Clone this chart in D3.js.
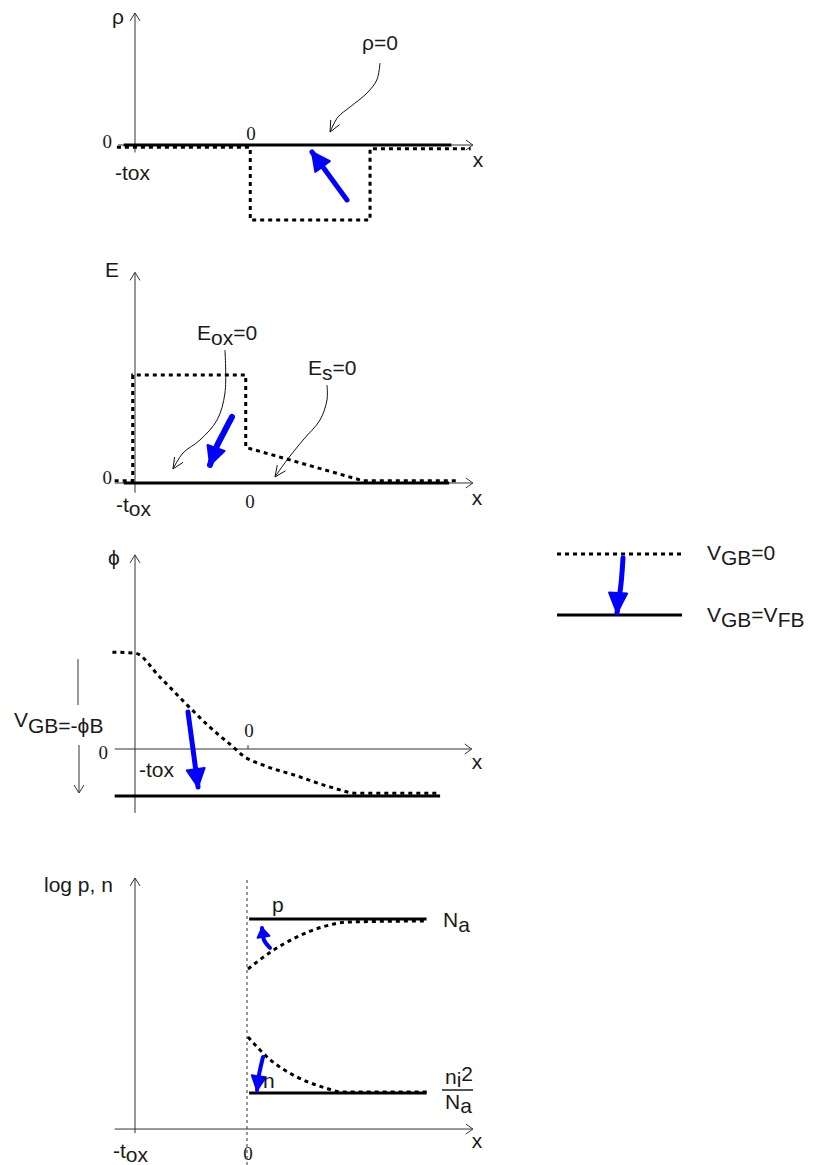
<!DOCTYPE html>
<html>
<head>
<meta charset="utf-8">
<script src="https://cdn.jsdelivr.net/npm/d3@7"></script>
<style>
  body { margin: 0; background: #fff; }
  svg { display: block; }
  text { font-family: "Liberation Sans", Arial, sans-serif; font-size: 21px; fill: #1a1a1a; }
  text.num { font-family: "Liberation Serif", "Times New Roman", serif; font-size: 19px; }
</style>
</head>
<body>
<svg id="chart" width="815" height="1165"></svg>
<script>
// x is in units of tox: -1 = oxide edge, 0 = Si surface
// charge density (rho)
const rhoSolid = [[-1.1, 0], [1.8, 0]];
const rhoDotted = [[-1.16, -0.03], [0.02, -0.03], [0.02, -1], [1.08, -1], [1.08, -0.05], [1.97, -0.05]];
// electric field (E)
const eSolid = [[-1.1, 0], [1.78, 0]];
const eDotted = [[-1.18, 0.02], [-1.02, 0.02], [-1.02, 1], [-0.02, 1], [-0.02, 0.33], [1.02, 0.02], [1.85, 0.02]];
// potential (phi), in units of phiB
const phiSolid = [[-1.18, -1], [1.70, -1]];
const phiDotted = [[-1.2, 2.06], [-1.0, 2.04], [-0.78, 1.53], [-0.54, 0.94], [-0.34, 0.47], [-0.13, 0.04],
  [-0.04, -0.15], [0.13, -0.34], [0.43, -0.57], [0.73, -0.81], [0.96, -0.94], [1.70, -0.94]];
// carrier concentrations (log)
const pSolid = [[0.01, 1e17], [1.58, 1e17]];
const pDotted = [[0, 9.5e12], [0.2, 2.2e14], [0.43, 3.5e15], [0.66, 2.3e16], [0.88, 5.7e16], [1.58, 7e16]];
const nSolid = [[0.01, 1e3], [1.58, 1e3]];
const nDotted = [[0, 3.2e7], [0.2, 4.5e5], [0.43, 2e4], [0.66, 3e3], [0.84, 1.2e3], [1.6, 1.2e3]];

// annotation pointers (data coords)
const rhoNote = [[1.168, 1.093], [1.14, 0.867], [1.053, 0.693], [0.903, 0.507], [0.796, 0.373], [0.726, 0.173]];
const eoxNote = [[-0.204, 1.231], [-0.204, 0.833], [-0.274, 0.583], [-0.425, 0.398], [-0.575, 0.278], [-0.664, 0.130]];
const esNote = [[0.699, 0.907], [0.699, 0.769], [0.637, 0.583], [0.487, 0.398], [0.345, 0.213], [0.239, 0.056]];

// blue "change" arrows (data coords, last point = tip)
const blueRho = [[0.876, -0.733], [0.566, -0.093]];
const blueE = [[-0.142, 0.611], [-0.212, 0.472], [-0.283, 0.324], [-0.336, 0.167]];
const bluePhi = [[-0.531, 0.787], [-0.487, 0.0], [-0.442, -0.809]];
const blueP = [[0.195, 4.7e14], [0.142, 2e15], [0.124, 1.9e16]];
const blueN = [[0.133, 8e5], [0.097, 2.8e4], [0.08, 1.7e3]];

const svg = d3.select('#chart');

const x = d3.scaleLinear().domain([-1, 0]).range([135, 248]);
const yRho = d3.scaleLinear().domain([-1, 0]).range([220, 145]);
const yE = d3.scaleLinear().domain([0, 1]).range([483, 375]);
const yPhi = d3.scaleLinear().domain([-1, 0]).range([796, 749]);
const yLog = d3.scaleLog().domain([1e3, 1e17]).range([1093, 919]);

const lineGen = (ys, curve) => d3.line().x(d => x(d[0])).y(d => ys(d[1])).curve(curve || d3.curveLinear);

function head(p0, p1, len, half, filled, color, width) {
  const a = Math.atan2(p1[1] - p0[1], p1[0] - p0[0]);
  const bx = p1[0] - len * Math.cos(a), by = p1[1] - len * Math.sin(a);
  const nx = -Math.sin(a) * half, ny = Math.cos(a) * half;
  const pts = [[bx + nx, by + ny], p1, [bx - nx, by - ny]];
  const d = 'M' + pts.map(p => p.join(',')).join('L') + (filled ? 'Z' : '');
  svg.append('path').attr('d', d)
    .attr('fill', filled ? color : 'none')
    .attr('stroke', color).attr('stroke-width', width)
    .attr('stroke-linejoin', 'round');
}

function axes(ys, x0, x1, yAt, yBot, yTop) {
  const g = svg.append('g').attr('stroke', '#333').attr('stroke-width', 1);
  g.append('line').attr('x1', x(x0)).attr('x2', x(x1)).attr('y1', ys(yAt)).attr('y2', ys(yAt));
  g.append('line').attr('x1', x(-1)).attr('x2', x(-1)).attr('y1', ys(yBot)).attr('y2', ys(yTop));
  head([x(x1) - 10, ys(yAt)], [x(x1), ys(yAt)], 7, 5, false, '#333', 1);
  head([x(-1), ys(yTop) + 10], [x(-1), ys(yTop)], 8, 5, false, '#333', 1);
}

function trace(data, ys, dotted, curve) {
  svg.append('path').datum(data)
    .attr('d', lineGen(ys, curve))
    .attr('fill', 'none').attr('stroke', '#000')
    .attr('stroke-width', 3)
    .attr('stroke-dasharray', dotted ? '4,4' : null);
}

function pointer(data, ys) {
  svg.append('path').datum(data).attr('d', lineGen(ys, d3.curveCatmullRom))
    .attr('fill', 'none').attr('stroke', '#111').attr('stroke-width', 1);
  const n = data.length;
  head([x(data[n - 2][0]), ys(data[n - 2][1])], [x(data[n - 1][0]), ys(data[n - 1][1])], 11, 5, false, '#111', 1);
}

function blue(data, ys, w, len, half) {
  svg.append('path').datum(data).attr('d', lineGen(ys, d3.curveCatmullRom))
    .attr('fill', 'none').attr('stroke', '#0000ff').attr('stroke-width', w)
    .attr('stroke-linecap', 'round');
  const n = data.length;
  head([x(data[n - 2][0]), ys(data[n - 2][1])], [x(data[n - 1][0]), ys(data[n - 1][1])], len, half, true, '#0000ff', 2);
}

function label(px, py, parts, anchor, cls) {
  const t = svg.append('text').attr('x', px).attr('y', py)
    .attr('text-anchor', anchor || 'start').attr('class', cls || null);
  parts.forEach(([s, dy]) => t.append('tspan').attr('dy', dy).text(s));
  return t;
}

// ---------- panel 1: rho ----------
axes(yRho, -1.15, 1.99, 0, -0.1, 1.76);
trace(rhoDotted, yRho, true);
trace(rhoSolid, yRho, false);
pointer(rhoNote, yRho);
blue(blueRho, yRho, 5, 18, 9);
label(118, 24, [['ρ', 0]], 'middle');
label(112, 148, [['0', 0]], 'end', 'num');
label(x(0) + 3, 140, [['0', 0]], 'middle', 'num');
label(115, 180, [['-t', 0], ['ox', 0]]);
label(478, 167, [['x', 0]], 'middle');
label(362, 50, [['ρ=0', 0]]);

// ---------- panel 2: E ----------
axes(yE, -1.18, 1.99, 0, -0.09, 1.95);
trace(eDotted, yE, true);
trace(eSolid, yE, false);
pointer(eoxNote, yE);
pointer(esNote, yE);
blue(blueE, yE, 6, 18, 9);
label(105, 277, [['E', 0]]);
label(112, 484, [['0', 0]], 'end', 'num');
label(x(0) + 2, 508, [['0', 0]], 'middle', 'num');
label(116, 512, [['-t', 0], ['ox', 4]]);
label(477, 505, [['x', 0]], 'middle');
label(197, 340, [['E', 0], ['ox', 5], ['=0', -5]]);
label(308, 375, [['E', 0], ['s', 5], ['=0', -5]]);

// ---------- panel 3: phi ----------
axes(yPhi, -1.18, 1.98, 0, -1.36, 4.13);
svg.append('line').attr('x1', x(0)).attr('x2', x(0))
  .attr('y1', yPhi(0)).attr('y2', yPhi(0) - 4).attr('stroke', '#333');
trace(phiDotted, yPhi, true, d3.curveMonotoneX);
trace(phiSolid, yPhi, false);
blue(bluePhi, yPhi, 5, 18, 9);
label(114, 565, [['ϕ', 0]], 'middle');
label(108, 759, [['0', 0]], 'end', 'num');
label(x(0) + 1, 737, [['0', 0]], 'middle', 'num');
label(139, 777, [['-t', 0], ['ox', 0]]);
label(477, 769, [['x', 0]], 'middle');
label(14, 727, [['V', 0], ['GB', 6], ['=-ϕB', 0]]);
// V_GB span marker
svg.append('line').attr('x1', 78).attr('x2', 78).attr('y1', yPhi(2.04) + 6).attr('y2', 705)
  .attr('stroke', '#333');
svg.append('line').attr('x1', 79).attr('x2', 79).attr('y1', 745).attr('y2', yPhi(-1) - 3)
  .attr('stroke', '#333');
head([79, yPhi(-1) - 13], [79, yPhi(-1) - 3], 8, 5, false, '#333', 1);

// legend
const lgX0 = 557, lgX1 = 682, lgY0 = 554, lgY1 = 615;
svg.append('line').attr('x1', lgX0).attr('x2', lgX1).attr('y1', lgY0).attr('y2', lgY0)
  .attr('stroke', '#000').attr('stroke-width', 3).attr('stroke-dasharray', '4,4');
svg.append('line').attr('x1', lgX0).attr('x2', lgX1).attr('y1', lgY1).attr('y2', lgY1)
  .attr('stroke', '#000').attr('stroke-width', 3);
svg.append('path').attr('d', d3.line().curve(d3.curveCatmullRom)([[623, lgY0 + 4], [621, lgY0 + 30], [617, lgY1 - 2]]))
  .attr('fill', 'none').attr('stroke', '#0000ff').attr('stroke-width', 5).attr('stroke-linecap', 'round');
head([618, lgY1 - 20], [617, lgY1 - 2], 20, 9, true, '#0000ff', 2);
label(707, 560, [['V', 0], ['GB', 5], ['=0', -5]]);
label(707, 622, [['V', 0], ['GB', 5], ['=V', -5], ['FB', 5]]);

// ---------- panel 4: log p, n ----------
axes(yLog, -1.18, 1.99, 1.26, 0.6, 2e20);
svg.append('line').attr('x1', x(0) - 1).attr('x2', x(0) - 1).attr('y1', 880).attr('y2', 1165)
  .attr('stroke', '#333').attr('stroke-width', 1).attr('stroke-dasharray', '3,3');
trace(pDotted, yLog, true, d3.curveMonotoneX);
trace(pSolid, yLog, false);
trace(nDotted, yLog, true, d3.curveMonotoneX);
trace(nSolid, yLog, false);
blue(blueP, yLog, 4, 9, 6);
blue(blueN, yLog, 4, 14, 7);
label(44, 892, [['log p, n', 0]]);
label(272, 912, [['p', 0]]);
label(263, 1088, [['n', 0]]);
label(443, 927, [['N', 0], ['a', 5]]);
label(445, 1084, [['n', 0], ['i', 3], ['2', -6]]);
svg.append('line').attr('x1', 442).attr('x2', 473).attr('y1', 1090).attr('y2', 1090)
  .attr('stroke', '#1a1a1a').attr('stroke-width', 1.5);
label(445, 1109, [['N', 0], ['a', 4]]);
label(113, 1158, [['-t', 0], ['ox', 4]]);
label(x(0), 1160, [['0', 0]], 'middle', 'num');
label(477, 1148, [['x', 0]], 'middle');
</script>
</body>
</html>
